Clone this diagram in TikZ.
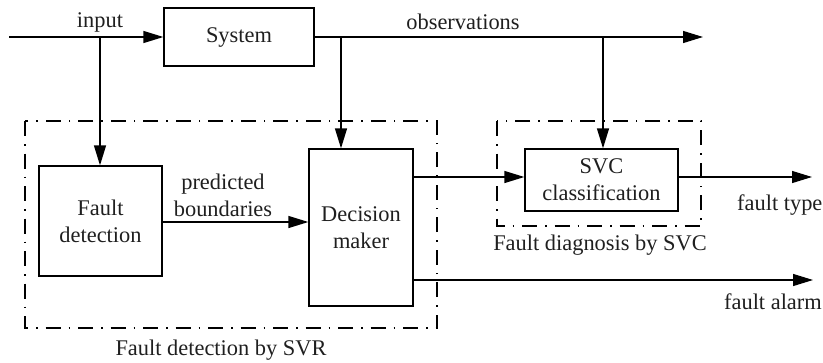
\documentclass[tikz,border=0pt]{standalone}
\usepackage{fontspec}
\setmainfont{Liberation Serif}
\usetikzlibrary{arrows.meta}
\begin{document}
\begin{tikzpicture}[x=1pt,y=-1pt,
  every node/.style={font=\fontsize{22.4}{27}\selectfont, text=black!88},
  block/.style={draw, line width=1.3pt, align=center, inner sep=0pt},
  group/.style={draw, line width=1.2pt, dash pattern=on 15pt off 8pt on 1.5pt off 8pt},
  flow/.style={line width=1.3pt, -{Triangle[length=20pt,width=12pt]}},
  lbl/.style={inner sep=0pt}]
\useasboundingbox (0,0) rectangle (823,362);

% dash-dot group frames
\draw[group] (25,121) rectangle (437,328);
\draw[group] (497,121) rectangle (701,226);

% blocks
\node[block, minimum width=150pt, minimum height=58pt] (sys) at (239,37) {System};
\node[block, minimum width=123pt, minimum height=110pt] (fd) at (100.5,221) {Fault\\detection};
\node[block, minimum width=104pt, minimum height=157pt] (dm) at (361,227.5) {Decision\\maker};
\node[block, minimum width=153pt, minimum height=62pt] (svc) at (601.5,180) {SVC\\classification};

% junctions and free ends
\coordinate (in) at (9,37);
\coordinate (j1) at (100,37);
\coordinate (j2) at (341,37);
\coordinate (j3) at (603,37);
\coordinate (obs) at (703,37);
\coordinate (dmt) at (413,177);
\coordinate (dmb) at (413,280);
\coordinate (type) at (812,177);
\coordinate (alarm) at (813,280);

% signal flow
\draw[flow] (in) -- (sys.west);
\draw[flow] (sys.east) -- (obs);
\draw[flow] (j1) -- (j1 |- fd.north);
\draw[flow] (j2) -- (j2 |- dm.north);
\draw[flow] (j3) -- (j3 |- svc.north);
\draw[flow] (fd.east |- 0,222) -- (dm.west |- 0,222);
\draw[flow] (dmt) -- (svc.west |- dmt);
\draw[flow] (svc.east |- type) -- (type);
\draw[flow] (dmb) -- (alarm);

% labels
\node[lbl] (lin) at (100,22) {input};
\node[lbl] (lobs) at (463,22) {observations};
\node[lbl, align=center] (lpb) at (223,195) {predicted\\boundaries};
\node[lbl, anchor=west] (ltype) at (737,205) {fault type};
\node[lbl, anchor=east] (lalarm) at (822,302) {fault alarm};
\node[lbl] (lsvc) at (600,245) {Fault diagnosis by SVC};
\node[lbl] (lsvr) at (221,350) {Fault detection by SVR};
\end{tikzpicture}
\end{document}
